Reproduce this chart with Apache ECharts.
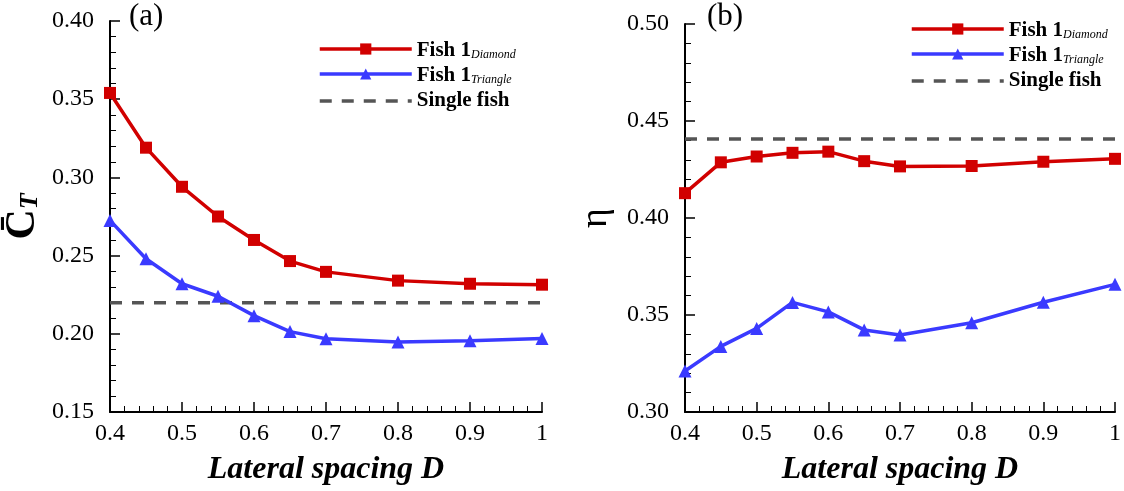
<!DOCTYPE html>
<html><head><meta charset="utf-8">
<script src="https://cdn.jsdelivr.net/npm/echarts@6/dist/echarts.min.js"></script>
<style>html,body{margin:0;padding:0;background:#fff}#c{width:1124px;height:491px}</style>
</head><body><div id="c"></div>
<script>
const spacing = [0.4, 0.45, 0.5, 0.55, 0.6, 0.65, 0.7, 0.8, 0.9, 1.0];
const ctDiamond = [0.354, 0.319, 0.294, 0.275, 0.260, 0.2465, 0.2396, 0.234, 0.232, 0.2314];
const ctTriangle = [0.2725, 0.248, 0.232, 0.224, 0.2116, 0.2014, 0.1968, 0.1947, 0.1955, 0.197];
const ctSingle = 0.2198;
const etaDiamond = [0.4128, 0.4287, 0.4317, 0.4336, 0.4342, 0.4293, 0.4266, 0.4268, 0.429, 0.4305];
const etaTriangle = [0.3211, 0.3338, 0.3431, 0.3565, 0.3516, 0.3423, 0.3397, 0.346, 0.3566, 0.3658];
const etaSingle = 0.4407;
const xTicks = ['0.4', '0.5', '0.6', '0.7', '0.8', '0.9', '1'];

const SERIF = '"Liberation Serif","Times New Roman",serif';
const RED = '#d10000', BLUE = '#3a3aff', GREY = '#555555';
const pair = (xs, ys) => xs.map((x, i) => [x, ys[i]]);
const flat = (v) => [[spacing[0], v], [spacing[spacing.length - 1], v]];

function xAxis(gi) {
  return {
    type: 'value', gridIndex: gi, min: 0.4, max: 1.0, interval: 0.1,
    name: 'Lateral spacing D', nameLocation: 'middle', nameGap: 42,
    nameTextStyle: { fontFamily: SERIF, fontSize: 32, fontWeight: 'bold', fontStyle: 'italic', color: '#000' },
    axisLine: { lineStyle: { color: '#000', width: 2 } },
    axisTick: { inside: true, length: 10, lineStyle: { color: '#000', width: 1.5 } },
    minorTick: { show: true, splitNumber: 5, length: 6, lineStyle: { color: '#000', width: 1 } },
    splitLine: { show: false },
    axisLabel: { fontFamily: SERIF, fontSize: 24, color: '#000', margin: 10,
      formatter: v => { const i = Math.round((v - 0.4) / 0.1); return xTicks[i] !== undefined ? xTicks[i] : ''; } }
  };
}
function yAxis(gi, min, max, name, gap, nameStyle) {
  return {
    type: 'value', gridIndex: gi, min: min, max: max, interval: 0.05,
    name: name, nameLocation: 'middle', nameGap: gap, nameRotate: 90,
    nameTextStyle: nameStyle,
    axisLine: { show: true, lineStyle: { color: '#000', width: 2 } },
    axisTick: { inside: true, length: 10, lineStyle: { color: '#000', width: 1.5 } },
    minorTick: { show: true, splitNumber: 5, length: 6, lineStyle: { color: '#000', width: 1 } },
    splitLine: { show: false },
    axisLabel: { fontFamily: SERIF, fontSize: 24, color: '#000', margin: 16, formatter: v => v.toFixed(2) }
  };
}
function legend(left, top) {
  return {
    left: left, top: top, orient: 'vertical', itemWidth: 92, itemHeight: 14, itemGap: 4,
    data: ['Fish 1 Diamond', 'Fish 1 Triangle', { name: 'Single fish', itemStyle: { opacity: 0 } }],
    lineStyle: { width: 3.5 },
    formatter: n => {
      if (n === 'Fish 1 Diamond') return '{b|Fish 1}{s|Diamond}';
      if (n === 'Fish 1 Triangle') return '{b|Fish 1}{s|Triangle}';
      return '{b|Single fish}';
    },
    textStyle: {
      rich: {
        b: { fontFamily: SERIF, fontSize: 21, fontWeight: 'bold', color: '#000', lineHeight: 20, verticalAlign: 'bottom' },
        s: { fontFamily: SERIF, fontSize: 12, fontStyle: 'italic', color: '#000', padding: [12, 0, 0, 0], verticalAlign: 'bottom' }
      }
    },
    selectedMode: false
  };
}
function lines(gi, d, t, s) {
  return [
    { name: 'Fish 1 Diamond', type: 'line', xAxisIndex: gi, yAxisIndex: gi, data: pair(spacing, d),
      symbol: 'rect', symbolSize: 12, itemStyle: { color: RED }, lineStyle: { color: RED, width: 3.5 }, z: 3 },
    { name: 'Fish 1 Triangle', type: 'line', xAxisIndex: gi, yAxisIndex: gi, data: pair(spacing, t),
      symbol: 'triangle', symbolSize: 13, itemStyle: { color: BLUE }, lineStyle: { color: BLUE, width: 3.5 }, z: 3 },
    { name: 'Single fish', type: 'line', xAxisIndex: gi, yAxisIndex: gi, data: flat(s),
      symbol: 'none', itemStyle: { color: GREY }, lineStyle: { color: GREY, width: 3.5, type: [12, 10] }, z: 2 }
  ];
}

const chart = echarts.init(document.getElementById('c'), null, { renderer: 'canvas' });
chart.setOption({
  animation: false,
  backgroundColor: '#fff',
  grid: [
    { left: 110, top: 21, width: 432, height: 393 },
    { left: 685, top: 24, width: 432, height: 395 }
  ],
  xAxis: [xAxis(0), xAxis(1)],
  yAxis: [
    yAxis(0, 0.15, 0.40, '{c|C\u0304}{t|T}', 66, { rich: {
      c: { fontFamily: SERIF, fontSize: 42, fontWeight: 'bold', color: '#000' },
      t: { fontFamily: SERIF, fontSize: 26, fontWeight: 'bold', fontStyle: 'italic', color: '#000', padding: [14, 0, 0, 0] } } }),
    yAxis(1, 0.30, 0.50, '\u03b7', 70, { fontFamily: SERIF, fontSize: 38, color: '#000' })
  ],
  legend: [legend(313, 35), legend(905, 15)],
  graphic: [
    { type: 'text', left: 129, top: 1, style: { text: '(a)', font: '31px ' + SERIF, fill: '#000' } },
    { type: 'text', left: 707, top: 1, style: { text: '(b)', font: '31px ' + SERIF, fill: '#000' } }
  ],
  series: [...lines(0, ctDiamond, ctTriangle, ctSingle), ...lines(1, etaDiamond, etaTriangle, etaSingle)]
});
</script></body></html>
